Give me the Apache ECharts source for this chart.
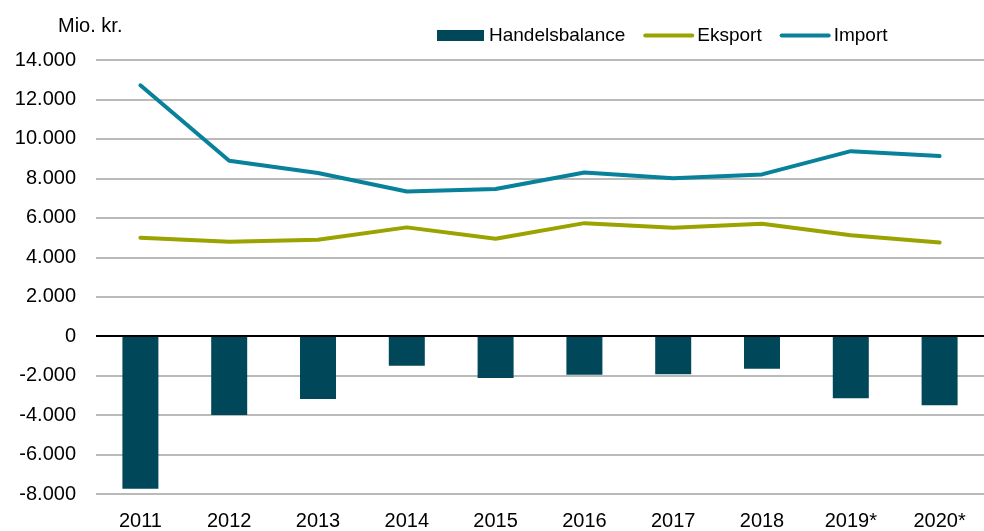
<!DOCTYPE html>
<html>
<head>
<meta charset="utf-8">
<title>Handelsbalance</title>
<script src="https://cdn.jsdelivr.net/npm/echarts@6/dist/echarts.min.js"></script>
<style>
	html, body { margin: 0; padding: 0; background: #fff; }
	#chart { width: 984px; height: 531px; }
</style>
</head>
<body>
<div id="chart"></div>
<script>
	// data
	const years = ['2011', '2012', '2013', '2014', '2015', '2016', '2017', '2018', '2019*', '2020*'];
	const handelsbalance = [-7730, -3990, -3190, -1500, -2120, -1950, -1930, -1650, -3150, -3500];
	const eksport = [4990, 4790, 4890, 5515, 4940, 5730, 5500, 5700, 5120, 4750];
	const importData = [12720, 8890, 8270, 7330, 7460, 8300, 8000, 8200, 9380, 9130];

	const font = 'Liberation Sans, Arial, sans-serif';

	// 14000 -> "14.000"
	function fmt(v) {
		const s = String(Math.abs(v)).replace(/\B(?=(\d{3})+(?!\d))/g, '.');
		return v < 0 ? '-' + s : s;
	}

	const chart = echarts.init(document.getElementById('chart'));
	chart.setOption({
		animation: false,
		textStyle: { fontFamily: font, color: '#000' },
		title: {
			text: 'Mio. kr.',
			left: 53,
			top: 11,
			textStyle: { fontFamily: font, fontSize: 20, fontWeight: 'normal', color: '#000' }
		},
		legend: {
			left: 432,
			top: 21,
			itemGap: 18,
			itemWidth: 47,
			itemHeight: 11,
			textStyle: { fontFamily: font, fontSize: 19, color: '#000' },
			data: [
				{ name: 'Handelsbalance', icon: 'rect' },
				{ name: 'Eksport', itemStyle: { opacity: 0 }, lineStyle: { width: 4, cap: 'round' } },
				{ name: 'Import', itemStyle: { opacity: 0 }, lineStyle: { width: 4, cap: 'round' } }
			]
		},
		grid: {
			left: 96,
			right: -5,
			top: 60,
			bottom: 37
		},
		xAxis: {
			type: 'category',
			data: years,
			axisLine: { show: false },
			axisTick: { show: false },
			axisLabel: { fontSize: 20, color: '#000', margin: 17, fontFamily: font }
		},
		yAxis: {
			type: 'value',
			min: -8000,
			max: 14000,
			interval: 2000,
			axisLine: { show: false },
			axisTick: { show: false },
			axisLabel: { fontSize: 20, color: '#000', margin: 20, fontFamily: font, formatter: fmt },
			splitLine: { lineStyle: { color: '#a3a3a3', width: 1.5 } }
		},
		series: [
			{
				name: 'Handelsbalance',
				type: 'bar',
				barWidth: 36,
				data: handelsbalance,
				itemStyle: { color: '#00475a' },
				markLine: {
					silent: true,
					symbol: 'none',
					label: { show: false },
					lineStyle: { color: '#000', width: 2, type: 'solid' },
					data: [{ yAxis: 0 }]
				}
			},
			{
				name: 'Eksport',
				type: 'line',
				symbol: 'none',
				data: eksport,
				lineStyle: { color: '#9aa300', width: 4, cap: 'round' },
				itemStyle: { color: '#9aa300' }
			},
			{
				name: 'Import',
				type: 'line',
				symbol: 'none',
				data: importData,
				lineStyle: { color: '#08819a', width: 4, cap: 'round' },
				itemStyle: { color: '#08819a' }
			}
		]
	});
</script>
</body>
</html>
